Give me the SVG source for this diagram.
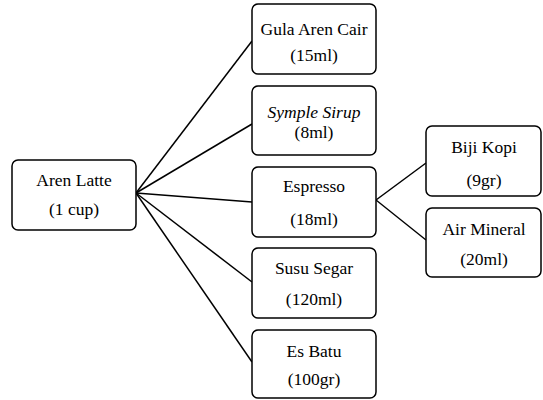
<svg xmlns="http://www.w3.org/2000/svg" width="543" height="400" viewBox="0 0 543 400">
<rect width="543" height="400" fill="#fff"/>
<g id="connectors" stroke="#000" stroke-width="1.5" fill="none">
<line x1="136" y1="193" x2="252" y2="41"/>
<line x1="136" y1="193" x2="252" y2="124"/>
<line x1="136" y1="193" x2="252" y2="202"/>
<line x1="136" y1="193" x2="252" y2="282"/>
<line x1="136" y1="193" x2="252" y2="362"/>
<line x1="376" y1="200" x2="426" y2="163"/>
<line x1="376" y1="200" x2="426" y2="240"/>
</g>
<g fill="#fff" stroke="#000" stroke-width="1.5">
<rect id="aren-latte-box" x="12" y="160" width="124" height="70" rx="6"/>
<rect id="gula-box" x="252" y="4" width="124" height="70" rx="6"/>
<rect id="symple-box" x="252" y="86" width="124" height="69" rx="6"/>
<rect id="espresso-box" x="252" y="167" width="124" height="70" rx="6"/>
<rect id="susu-box" x="252" y="248" width="124" height="70" rx="6"/>
<rect id="esbatu-box" x="252" y="330" width="124" height="68" rx="6"/>
<rect id="biji-box" x="426" y="126" width="115" height="70" rx="6"/>
<rect id="air-box" x="426" y="208" width="115" height="69" rx="6"/>
</g>
<g font-family="Liberation Serif" font-size="20" text-anchor="middle">
<g id="aren-latte">
<text transform="translate(74 186) scale(0.875)">Aren Latte</text>
<text transform="translate(74 215) scale(0.875)">(1 cup)</text>
</g>
<g id="gula-aren-cair">
<text transform="translate(314 35) scale(0.875)">Gula Aren Cair</text>
<text transform="translate(314 61) scale(0.875)">(15ml)</text>
</g>
<g id="symple-sirup">
<text transform="translate(314 118) scale(0.875)" font-style="italic">Symple Sirup</text>
<text transform="translate(314 138) scale(0.875)">(8ml)</text>
</g>
<g id="espresso">
<text transform="translate(314 192) scale(0.875)">Espresso</text>
<text transform="translate(314 225) scale(0.875)">(18ml)</text>
</g>
<g id="susu-segar">
<text transform="translate(314 274) scale(0.875)">Susu Segar</text>
<text transform="translate(314 305) scale(0.875)">(120ml)</text>
</g>
<g id="es-batu">
<text transform="translate(314 357) scale(0.875)">Es Batu</text>
<text transform="translate(314 385) scale(0.875)">(100gr)</text>
</g>
<g id="biji-kopi">
<text transform="translate(484 153) scale(0.875)">Biji Kopi</text>
<text transform="translate(484 186) scale(0.875)">(9gr)</text>
</g>
<g id="air-mineral">
<text transform="translate(484 235) scale(0.875)">Air Mineral</text>
<text transform="translate(484 265) scale(0.875)">(20ml)</text>
</g>
</g>
</svg>
